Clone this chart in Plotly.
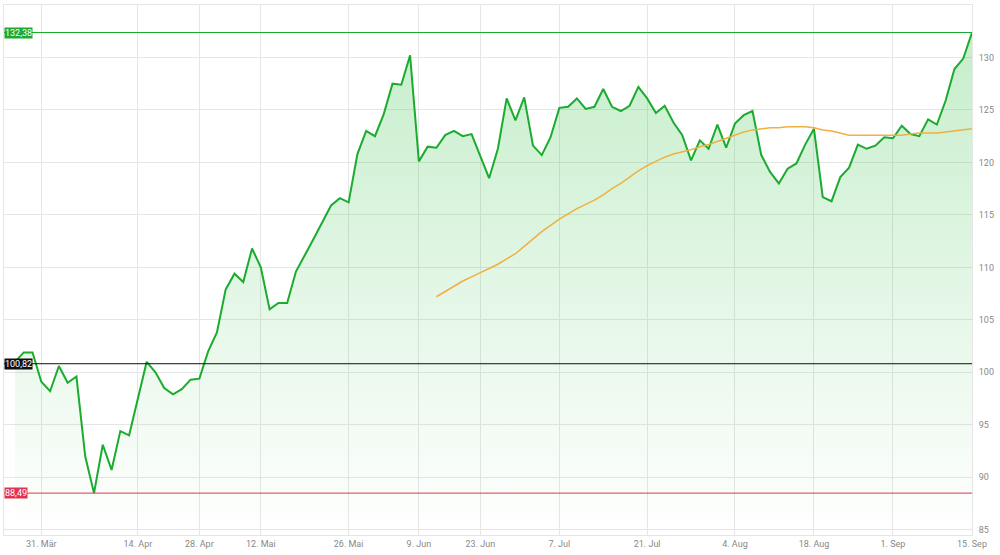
import plotly.graph_objects as go

# closing prices, one per trading day
price = [101.0, 101.9, 101.9, 99.1, 98.2, 100.6, 99.0, 99.6, 92.0, 88.49, 93.1, 90.7, 94.4, 94.0, 97.5,
         101.0, 100.0, 98.5, 97.9, 98.4, 99.3, 99.4, 102.0, 103.8, 107.9, 109.4, 108.6, 111.8, 110.0, 106.0,
         106.6, 106.6, 109.6, 111.1, 112.7,
         114.3, 115.9, 116.6, 116.2, 120.8, 123.0, 122.5, 124.6, 127.5, 127.4, 130.2, 120.1, 121.5, 121.4,
         122.6, 123.0, 122.5, 122.7, 120.6, 118.5, 121.3, 126.1, 124.0, 126.2, 121.6, 120.7, 122.4, 125.2,
         125.3, 126.1, 125.1, 125.3, 127.0, 125.3, 124.9, 125.4, 127.2,
         126.1, 124.7, 125.4, 123.8, 122.6, 120.2, 122.1, 121.3, 123.6, 121.4, 123.7, 124.5, 124.9, 120.7,
         119.1, 118.0, 119.4, 119.9, 121.7, 123.2, 116.7, 116.3, 118.6, 119.5, 121.7, 121.3, 121.6, 122.4,
         122.3, 123.5, 122.7, 122.5, 124.1, 123.6, 125.9, 128.9, 129.9, 132.38]

# moving average, starts at day 48
ma_start = 48
ma = [107.2, 107.7, 108.2, 108.7, 109.1, 109.5, 109.9, 110.3, 110.8, 111.3, 112.0, 112.7, 113.4, 114.0,
      114.6, 115.1, 115.6, 116.0, 116.4, 116.9, 117.5, 118.0, 118.6, 119.2, 119.7, 120.1, 120.5, 120.8,
      121.0, 121.2, 121.5, 121.7, 122.0, 122.3, 122.6, 122.9, 123.1, 123.2, 123.3, 123.3, 123.4, 123.4,
      123.4, 123.3, 123.1, 123.0, 122.8, 122.6, 122.6, 122.6, 122.6, 122.6, 122.6, 122.6, 122.7, 122.8,
      122.8, 122.8, 122.9, 123.0, 123.1, 123.2]

tick_pos = [3, 14, 21, 28, 38, 46, 53, 62, 72, 82, 91, 100, 109]
tick_text = ["31. Mär", "14. Apr", "28. Apr", "12. Mai", "26. Mai", "9. Jun", "23. Jun", "7. Jul",
             "21. Jul", "4. Aug", "18. Aug", "1. Sep", "15. Sep"]
y_ticks = [85, 90, 95, 100, 105, 110, 115, 120, 125, 130]

high, start, low = 132.38, 100.82, 88.49

x = list(range(len(price)))
fig = go.Figure()
fig.add_trace(go.Scatter(
    x=x, y=price, mode="lines", line=dict(color="#1aab2f", width=2),
    fill="tozeroy",
    fillgradient=dict(type="vertical", start=84.5, stop=135,
                      colorscale=[[0, "rgba(40,190,60,0.0)"], [1, "rgba(40,190,60,0.28)"]]),
))
fig.add_trace(go.Scatter(
    x=list(range(ma_start, ma_start + len(ma))), y=ma, mode="lines",
    line=dict(color="#f0b040", width=1.5),
))

for val, col in [(high, "#1aab2f"), (start, "#111111"), (low, "#e0334f")]:
    fig.add_hline(y=val, line=dict(color=col, width=1))
    fig.add_annotation(x=0, xref="paper", y=val, yref="y", xanchor="left",
                       text=f"{val:.2f}".replace(".", ","), showarrow=False,
                       font=dict(color="white", size=9, family="Roboto"),
                       bgcolor=col, borderpad=0)

fig.update_layout(
    width=1000, height=555, showlegend=False,
    margin=dict(l=4, r=28, t=5, b=20, autoexpand=False),
    plot_bgcolor="white", paper_bgcolor="white",
    font=dict(family="Roboto", size=9, color="#888"),
)
fig.update_xaxes(range=[-1.25, 109], tickvals=tick_pos, ticktext=tick_text, automargin=False,
                 showgrid=True, gridcolor="#e6e6e6", zeroline=False,
                 showline=True, linecolor="#e6e6e6", mirror=True, ticks="")
fig.update_yaxes(range=[84.5, 135], side="right", tickvals=y_ticks, showgrid=True, gridcolor="#e6e6e6",
                 automargin=False, zeroline=False, showline=True, linecolor="#e6e6e6",
                 mirror=True, ticklabelstandoff=4)

fig.write_html("out.html", config={"displayModeBar": False},
               post_script="document.body.style.margin='0';")
